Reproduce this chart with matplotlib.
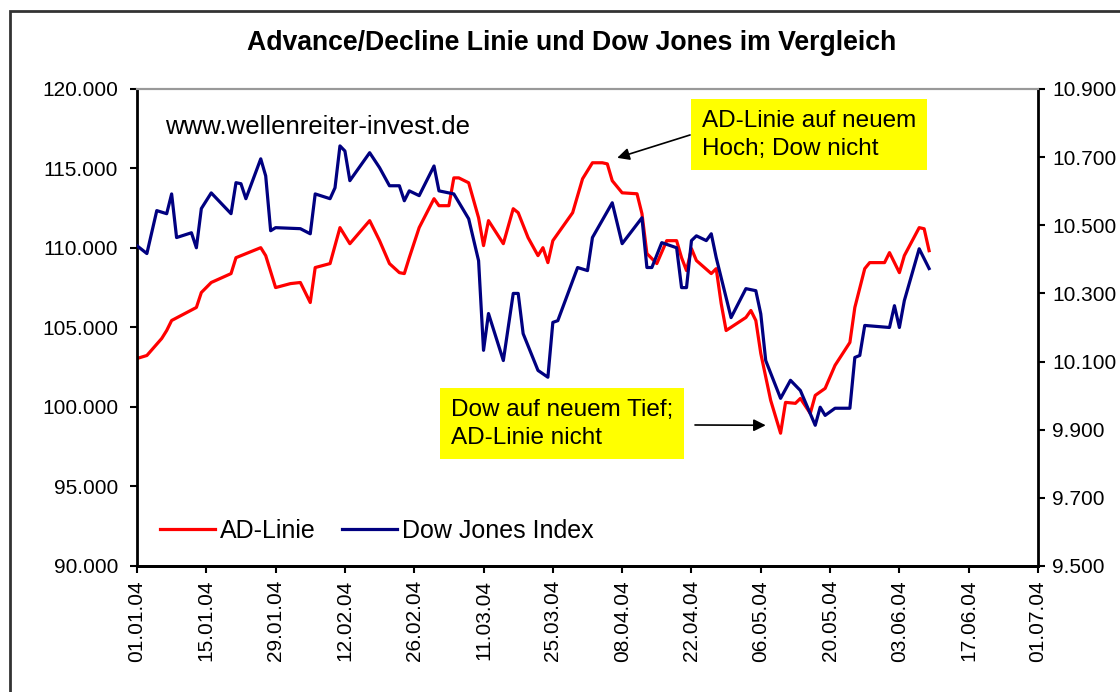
import matplotlib
matplotlib.use("Agg")
import matplotlib.pyplot as plt
import matplotlib.dates as mdates
from matplotlib.patches import Rectangle
import pandas as pd

plt.rcParams['font.family'] = ['Liberation Sans', 'DejaVu Sans']

# AD-Linie (linke Achse)
ad_dates = ['01-01', '01-03', '01-06', '01-07', '01-08', '01-13', '01-14', '01-16', '01-20', '01-21',
            '01-26', '01-27', '01-29', '02-01', '02-03', '02-05', '02-06', '02-09', '02-11', '02-13',
            '02-17', '02-19', '02-21', '02-23', '02-24', '02-25', '02-27', '03-01', '03-02', '03-04',
            '03-05', '03-06', '03-08', '03-10', '03-11', '03-12', '03-15', '03-17', '03-18', '03-20',
            '03-22', '03-23', '03-24', '03-25', '03-29', '03-31', '04-02', '04-04', '04-05', '04-06',
            '04-08', '04-11', '04-12', '04-13', '04-15', '04-17', '04-19', '04-20', '04-21', '04-22',
            '04-23', '04-26', '04-27', '04-28', '04-29', '05-03', '05-04', '05-05', '05-06', '05-08',
            '05-10', '05-11', '05-13', '05-14', '05-16', '05-17', '05-19', '05-21', '05-24', '05-25',
            '05-27', '05-28', '05-31', '06-01', '06-03', '06-04', '06-07', '06-08', '06-09']
ad_values = [103050, 103240, 104310, 104810, 105440, 106260, 107200, 107830, 108390, 109390,
             110020, 109520, 107510, 107760, 107830, 106570, 108770, 109020, 111280, 110270,
             111720, 110460, 109020, 108450, 108390, 109390, 111280, 113100, 112660, 112660,
             114410, 114410, 114100, 111900, 110150, 111720, 110270, 112470, 112220, 110650,
             109520, 110020, 109080, 110460, 112220, 114350, 115360, 115360, 115290, 114230,
             113470, 113410, 112160, 109650, 109020, 110460, 110460, 109390, 108580, 109960,
             109210, 108390, 108700, 106510, 104810, 105630, 106070, 105440, 103370, 100420,
             98350, 100290, 100230, 100540, 99600, 100730, 101170, 102620, 104060, 106260,
             108700, 109080, 109080, 109710, 108450, 109520, 111280, 111210, 109830]

# Dow Jones Index (rechte Achse)
dow_dates = ['01-01', '01-03', '01-05', '01-07', '01-08', '01-09', '01-12', '01-13', '01-14', '01-16',
             '01-20', '01-21', '01-22', '01-23', '01-26', '01-27', '01-28', '01-29', '02-03', '02-05',
             '02-06', '02-09', '02-10', '02-11', '02-12', '02-13', '02-17', '02-19', '02-21', '02-23',
             '02-24', '02-25', '02-27', '03-01', '03-02', '03-05', '03-08', '03-10', '03-11', '03-12',
             '03-15', '03-17', '03-18', '03-19', '03-22', '03-24', '03-25', '03-26', '03-30', '04-01',
             '04-02', '04-06', '04-08', '04-12', '04-13', '04-14', '04-16', '04-19', '04-20', '04-21',
             '04-22', '04-23', '04-25', '04-26', '04-27', '04-30', '05-03', '05-05', '05-06', '05-07',
             '05-10', '05-12', '05-14', '05-17', '05-18', '05-19', '05-21', '05-24', '05-25', '05-26',
             '05-27', '06-01', '06-02', '06-03', '06-04', '06-07', '06-09']
dow_values = [10440, 10417, 10543, 10534, 10592, 10464, 10478, 10434, 10549, 10595,
              10534, 10625, 10622, 10578, 10695, 10645, 10484, 10493, 10490, 10475,
              10592, 10578, 10610, 10733, 10718, 10631, 10713, 10669, 10616, 10616,
              10572, 10601, 10587, 10674, 10601, 10592, 10519, 10396, 10133, 10241,
              10103, 10300, 10300, 10182, 10074, 10054, 10215, 10220, 10376, 10367,
              10464, 10566, 10446, 10522, 10376, 10376, 10449, 10434, 10317, 10317,
              10455, 10469, 10455, 10475, 10405, 10229, 10314, 10308, 10240, 10103,
              9992, 10045, 10015, 9913, 9966, 9942, 9963, 9963, 10112, 10118,
              10206, 10200, 10264, 10200, 10279, 10431, 10373]

ad_x = pd.to_datetime(['2004-' + d for d in ad_dates])
dow_x = pd.to_datetime(['2004-' + d for d in dow_dates])


def de_fmt(v, pos=None):
    return f"{v:,.0f}".replace(',', '.')


fig = plt.figure(figsize=(11.2, 6.92), dpi=100)
ax = fig.add_axes([0.1223, 0.1821, 0.8045, 0.6893])
ax2 = ax.twinx()

ax.plot(ad_x, ad_values, color='#ff0000', lw=2.3, label='AD-Linie')
ax2.plot(dow_x, dow_values, color='#000080', lw=2.3, label='Dow Jones Index')

ax.set_xlim(pd.Timestamp('2004-01-01'), pd.Timestamp('2004-07-01'))
ax.set_ylim(90000, 120000)
ax2.set_ylim(9500, 10900)
ax.set_xticks(pd.date_range('2004-01-01', '2004-07-01', freq='14D'))
ax.xaxis.set_major_formatter(mdates.DateFormatter('%d.%m.%y'))
ax.set_yticks(range(90000, 120001, 5000))
ax2.set_yticks(range(9500, 10901, 200))
ax.yaxis.set_major_formatter(de_fmt)
ax2.yaxis.set_major_formatter(de_fmt)

for a in (ax, ax2):
    a.tick_params(direction='out', length=5, width=1.5, labelsize=15, colors='black')
    a.spines['top'].set_color('#999999')
    a.spines['top'].set_linewidth(1.5)
    a.spines['bottom'].set_linewidth(2)
ax.tick_params(axis='x', labelrotation=90, pad=5)
ax.tick_params(axis='y', pad=8.5)
ax2.tick_params(axis='y', pad=5)
ax.spines['right'].set_visible(False)
ax.spines['left'].set_linewidth(2)
ax2.spines['left'].set_visible(False)
ax2.spines['right'].set_linewidth(2)

fig.text(0.51, 1 - 43 / 692, 'Advance/Decline Linie und Dow Jones im Vergleich',
         ha='center', va='center', fontsize=19.2, fontweight='bold')

ax2.text(0.031, 0.92, 'www.wellenreiter-invest.de', transform=ax.transAxes,
         ha='left', va='center', fontsize=18.5)

h1, l1 = ax.get_legend_handles_labels()
h2, l2 = ax2.get_legend_handles_labels()
ax2.legend(h1 + h2, l1 + l2, loc='center left', bbox_to_anchor=(0.0255, 0.073), ncol=2,
           frameon=False, fontsize=18, handlelength=2.2, handletextpad=0.2,
           columnspacing=1.05, borderpad=0, borderaxespad=0)

# Kommentare mit Pfeilen
box = dict(boxstyle='square,pad=0.45', fc='#ffff00', ec='none')
ax2.text(0.746, 0.9036, 'AD-Linie auf neuem\nHoch; Dow nicht', transform=ax.transAxes,
         ha='center', va='center', multialignment='left', fontsize=17.5, linespacing=1.3,
         bbox=box, zorder=5)
ax2.text(0.4717, 0.2977, 'Dow auf neuem Tief;\nAD-Linie nicht', transform=ax.transAxes,
         ha='center', va='center', multialignment='left', fontsize=17.5, linespacing=1.3,
         bbox=box, zorder=5)
arrow = dict(arrowstyle='-|>', color='black', lw=1.2, mutation_scale=18, shrinkA=0, shrinkB=0)
tip1 = (mdates.date2num(pd.Timestamp('2004-04-07')), 115670)
tip2 = (mdates.date2num(pd.Timestamp('2004-05-07')), 98850)
ax2.annotate('', xy=tip1, xycoords=ax.transData,
             xytext=(0.6138, 0.9036), textcoords=ax.transAxes, arrowprops=arrow)
ax2.annotate('', xy=tip2, xycoords=ax.transData,
             xytext=(0.6193, 0.2956), textcoords=ax.transAxes, arrowprops=arrow)

# Rahmen um das Diagramm
fig.add_artist(Rectangle((10 / 1120, -0.1), 1.2, 1.1 - 11 / 692, transform=fig.transFigure,
                         fill=False, ec='#333333', lw=2))

fig.savefig('out.png', dpi=100)
